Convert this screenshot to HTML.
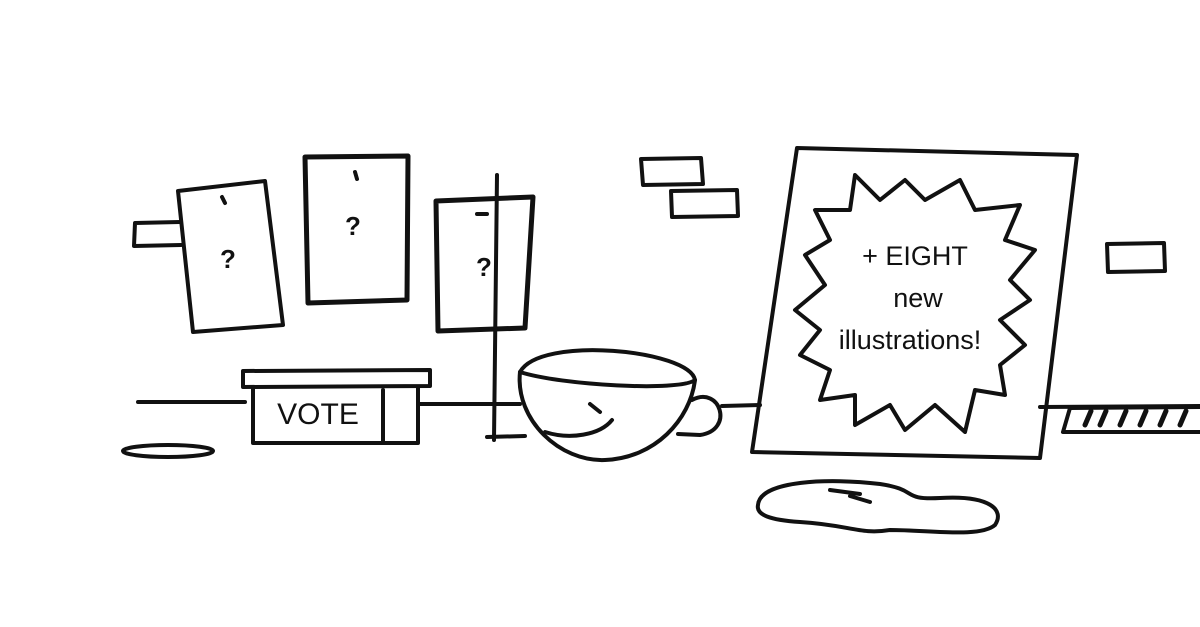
<!DOCTYPE html>
<html><head><meta charset="utf-8"><style>
html,body{margin:0;padding:0;background:#fff;}
svg{display:block}
text{font-family:"Liberation Sans",sans-serif;fill:#111;}
</style></head><body>
<svg width="1200" height="627" viewBox="0 0 1200 627" xmlns="http://www.w3.org/2000/svg">
<rect width="1200" height="627" fill="#fff"/>
<g fill="none" stroke="#111" stroke-width="4" stroke-linejoin="round" stroke-linecap="round">
<!-- ground line -->
<path d="M138 402 L245 402"/>
<path d="M420 404 L520 404"/>
<path d="M722 406 L760 405"/>
<path d="M1040 407 L1200 406"/>
<!-- bricks -->
<path d="M180 222 L135 223 L134 246 L181 245"/>
<path d="M641 159 L701 158 L703 184 L643 185 Z"/>
<path d="M671 191 L737 190 L738 216 L672 217 Z"/>
<path d="M1107 244 L1164 243 L1165 271 L1108 272 Z"/>
<!-- cards -->
<path d="M178 191 L265 181 L283 325 L193 332 Z" fill="#fff"/>
<path d="M305 157 L408 156 L407 300 L308 303 Z" fill="#fff" stroke-width="5"/>
<path d="M436 201 L533 197 L525 328 L438 331 Z" fill="#fff" stroke-width="5"/>
<path d="M222 197 l3 6 M355 172 l2 7 M477 214 l10 0"/>
<!-- vertical stick -->
<path d="M497 175 L494 440"/>
<path d="M487 437 L525 436"/>
<!-- vote box -->
<path d="M243 371 L430 370 L430 386 L243 387 Z"/>
<path d="M253 388 L253 443 L418 443 L418 388"/>
<path d="M383 390 L383 442"/>
<!-- ellipse -->
<ellipse cx="168" cy="451" rx="45" ry="6"/>
<!-- cup -->
<path d="M520 372 C540 335 690 350 695 380 C680 392 560 385 520 372 Z"/>
<path d="M520 372 C515 420 560 462 605 460 C655 458 690 420 695 380"/>
<path d="M692 400 C720 385 735 430 700 435 L678 434"/>
<path d="M590 404 l10 8"/>
<path d="M545 432 C570 440 600 435 612 420"/>
<!-- frame -->
<path d="M797 148 L1077 155 L1040 458 L752 452 Z"/>
<!-- starburst -->
<path d="M855 175 L880 200 L905 180 L925 200 L960 180 L975 210 L1020 205 L1005 240 L1035 250 L1010 280 L1030 300 L1000 320 L1025 345 L1000 365 L1005 395 L975 390 L965 432 L935 405 L905 430 L890 405 L855 425 L855 395 L820 400 L830 370 L800 355 L820 330 L795 310 L825 285 L805 255 L830 240 L815 210 L850 210 Z"/>
<!-- puddle -->
<path d="M758 505 C760 480 830 478 880 484 C920 490 900 500 940 498 C990 495 1005 510 995 525 C980 538 930 530 890 530 C860 535 850 525 800 522 C770 520 756 515 758 505 Z"/>
<path d="M830 490 l30 4 M850 496 l20 6"/>
<!-- ruler -->
<path d="M1070 408 L1200 407 M1063 432 L1200 432 M1070 408 L1063 432"/>
<path d="M1085 425 l6 -14 M1100 425 l6 -14 M1120 425 l6 -14 M1140 425 l6 -14 M1160 425 l6 -14 M1180 425 l6 -14" stroke-width="5"/>
</g>
<g font-weight="bold" font-size="26" text-anchor="middle">
<text x="228" y="268">?</text>
<text x="353" y="235">?</text>
<text x="484" y="276">?</text>
</g>
<text x="318" y="424" font-size="30" text-anchor="middle">VOTE</text>
<g font-size="27" text-anchor="middle">
<text x="915" y="265">+ EIGHT</text>
<text x="918" y="307">new</text>
<text x="910" y="349">illustrations!</text>
</g>
</svg>
</body></html>
